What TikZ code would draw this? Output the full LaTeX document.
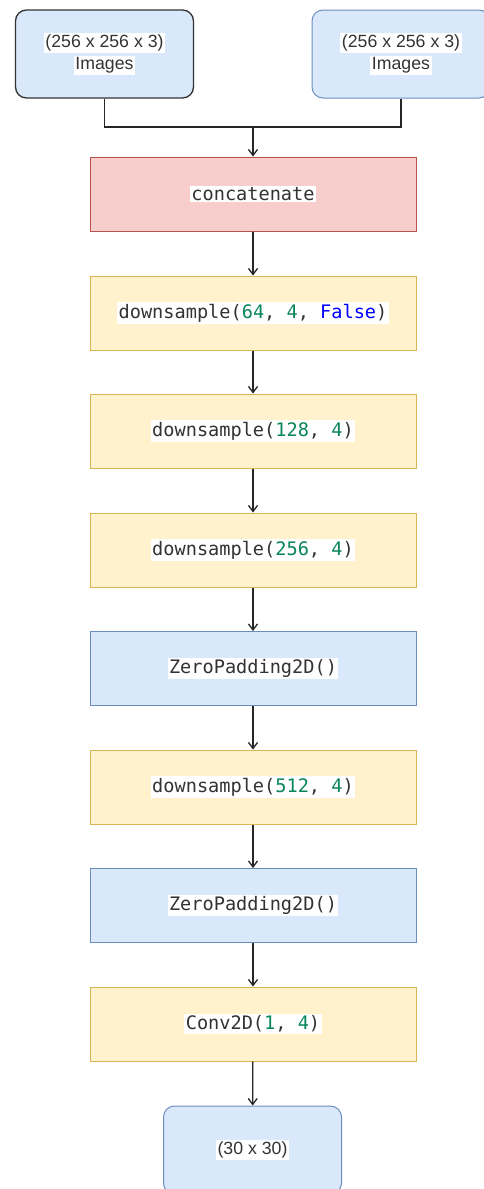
\documentclass[tikz,border=0pt]{standalone}
\usepackage{fontspec}
\setmainfont{Liberation Sans}
\setmonofont{DejaVu Sans Mono}
\usetikzlibrary{arrows.meta}

\definecolor{bluefill}{HTML}{DAE8FC}
\definecolor{blueline}{HTML}{6C8EBF}
\definecolor{redfill}{HTML}{F8CECC}
\definecolor{redline}{HTML}{B85450}
\definecolor{yelfill}{HTML}{FFF2CC}
\definecolor{yelline}{HTML}{D6B656}
\definecolor{numgreen}{HTML}{098658}
\definecolor{kwblue}{HTML}{0000FF}
\definecolor{txtgray}{HTML}{333333}

\newcommand{\hl}[1]{{\setlength{\fboxsep}{1.5pt}\colorbox{white}{#1}}}
\newcommand{\num}[1]{\textcolor{numgreen}{#1}}
\newcommand{\kw}[1]{\textcolor{kwblue}{#1}}

\begin{document}
\begin{tikzpicture}[x=1pt, y=-1pt,
    imgbox/.style={draw=blueline, fill=bluefill, rounded corners=11pt, line width=1pt,
        minimum width=178pt, minimum height=88pt, align=center, text=txtgray,
        font=\fontsize{17.7}{22}\selectfont},
    layerbox/.style={draw, line width=1pt, minimum width=326pt, minimum height=74pt,
        text=txtgray, font=\fontsize{18.6}{22}\selectfont\ttfamily},
    catbox/.style={layerbox, fill=redfill, draw=redline},
    dsbox/.style={layerbox, fill=yelfill, draw=yelline},
    padbox/.style={layerbox, fill=bluefill, draw=blueline},
    arr/.style={-{Straight Barb[length=6pt, width=9pt]}, line width=1.3pt, draw=black!85}]
  \useasboundingbox (0,0) rectangle (483,1189);

  % inputs
  \node[imgbox, draw=black!80, line width=1.3pt] (imgL) at (104.5,54) {\hl{(256 x 256 x 3)}\\\hl{Images}};
  \node[imgbox] (imgR) at (401,54) {\hl{(256 x 256 x 3)}\\\hl{Images}};
  \coordinate (join) at (253,127);

  % layers
  \node[catbox] (concat) at (253,194) {\hl{concatenate}};
  \node[dsbox] (ds1) at (253,313) {\hl{downsample(\num{64}, \num{4}, \kw{False})}};
  \node[dsbox] (ds2) at (253,431) {\hl{downsample(\num{128}, \num{4})}};
  \node[dsbox] (ds3) at (253,550) {\hl{downsample(\num{256}, \num{4})}};
  \node[padbox] (pad1) at (253,668.5) {\hl{ZeroPadding2D()}};
  \node[dsbox] (ds4) at (253,787) {\hl{downsample(\num{512}, \num{4})}};
  \node[padbox] (pad2) at (253,905.5) {\hl{ZeroPadding2D()}};
  \node[dsbox] (conv) at (253,1024) {\hl{Conv2D(\num{1}, \num{4})}};

  % output
  \node[imgbox] (out) at (252.5,1150) {\hl{(30 x 30)}};

  % connectors
  \draw[line width=1.3pt, draw=black!85] (imgL.south) |- (join) -| (imgR.south);
  \draw[arr] (join) -- (concat);
  \foreach \a/\b in {concat/ds1, ds1/ds2, ds2/ds3, ds3/pad1, pad1/ds4, ds4/pad2, pad2/conv, conv/out}
    \draw[arr] (\a) -- (\b);
\end{tikzpicture}
\end{document}
